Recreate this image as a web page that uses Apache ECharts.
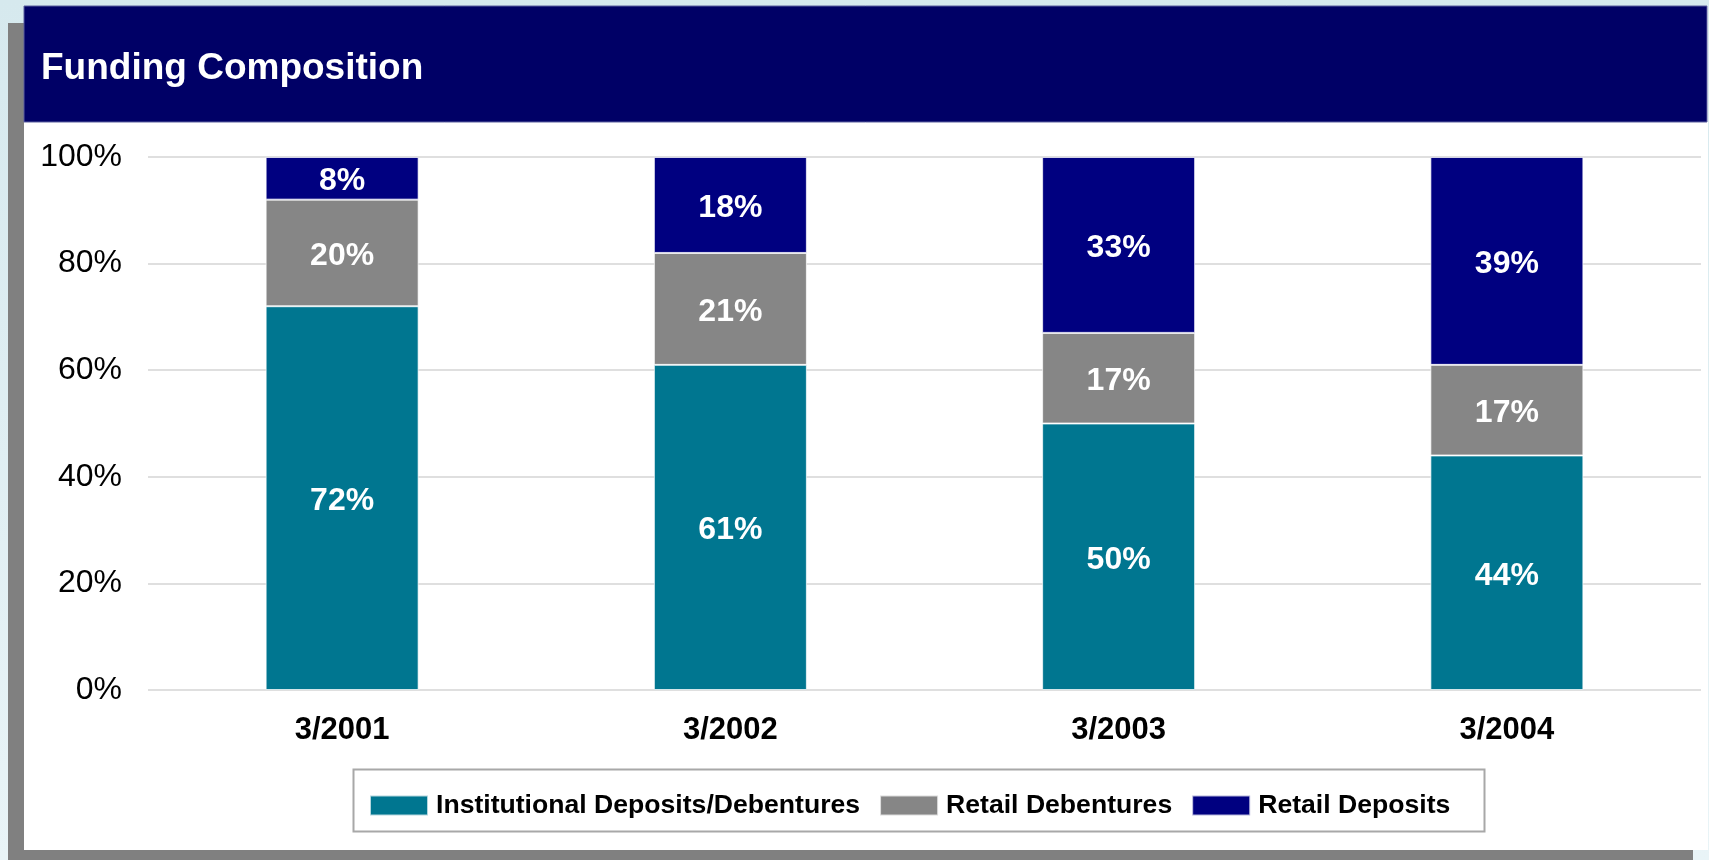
<!DOCTYPE html>
<html>
<head>
<meta charset="utf-8">
<title>Funding Composition</title>
<script src="https://cdn.jsdelivr.net/npm/echarts@6/dist/echarts.min.js"></script>
<style>
  html, body { margin: 0; padding: 0; background: #dcecf0; }
  #chart { width: 1709px; height: 860px; }
</style>
</head>
<body>
<div id="chart"></div>
<script>
// Funding mix by fiscal year end, in percent of total funding
const categories = ['3/2001', '3/2002', '3/2003', '3/2004'];
const institutional = [72, 61, 50, 44];
const retailDebentures = [20, 21, 17, 17];
const retailDeposits = [8, 18, 33, 39];
const yTicks = [0, 20, 40, 60, 80, 100];

const FONT = 'Liberation Sans, Arial, Helvetica, sans-serif';

const chart = echarts.init(document.getElementById('chart'), null, { renderer: 'canvas' });

const segLabel = {
  show: true,
  position: 'inside',
  offset: [0, 3],
  color: '#ffffff',
  fontFamily: FONT,
  fontWeight: 'bold',
  fontSize: 32,
  formatter: p => p.value + '%'
};

function barSeries(name, data, color) {
  return {
    name: name,
    type: 'bar',
    stack: 'total',
    barWidth: 153,
    data: data,
    itemStyle: { color: color, borderColor: 'rgba(255,255,255,0.7)', borderWidth: 1 },
    label: segLabel,
    emphasis: { disabled: true },
    z: 5
  };
}

chart.setOption({
  animation: false,
  backgroundColor: 'transparent',
  graphic: [
    // page backdrop
    {
      type: 'rect', z: -30, silent: true,
      shape: { x: 0, y: 0, width: 1709, height: 860 },
      style: {
        fill: new echarts.graphic.LinearGradient(0, 0, 0, 1, [
          { offset: 0, color: '#d6e9ee' },
          { offset: 1, color: '#e9f4f7' }
        ])
      }
    },
    // drop shadow behind the panel
    {
      type: 'rect', z: -20, silent: true,
      shape: { x: 8, y: 23, width: 1685, height: 837 },
      style: { fill: '#808080' }
    },
    // white panel
    {
      type: 'rect', z: -10, silent: true,
      shape: { x: 24, y: 6, width: 1684, height: 844 },
      style: { fill: '#ffffff' }
    },
    // navy header band
    {
      type: 'rect', z: -5, silent: true,
      shape: { x: 24, y: 6, width: 1683, height: 116 },
      style: { fill: '#000066', stroke: '#5a5f9e', lineWidth: 1 }
    },
    {
      type: 'text', z: 10, silent: true,
      left: 41, top: 50,
      style: {
        text: 'Funding Composition',
        fill: '#ffffff',
        font: 'bold 37px ' + FONT
      }
    },
    // legend frame
    {
      type: 'rect', z: 1, silent: true,
      shape: { x: 353.5, y: 769.5, width: 1131, height: 62 },
      style: { fill: '#ffffff', stroke: '#a8a8a8', lineWidth: 2 }
    }
  ],
  grid: {
    left: 148,
    right: 8,
    top: 157,
    bottom: 170,
    containLabel: false
  },
  legend: {
    left: 369,
    top: 792,
    padding: 0,
    itemWidth: 58,
    itemHeight: 20,
    itemGap: 19,
    icon: 'rect',
    selectedMode: false,
    textStyle: {
      fontFamily: FONT,
      fontWeight: 'bold',
      fontSize: 26.6,
      color: '#000000',
      padding: [0, 0, 0, 3]
    },
    data: ['Institutional Deposits/Debentures', 'Retail Debentures', 'Retail Deposits'],
    z: 5
  },
  xAxis: {
    type: 'category',
    data: categories,
    axisLine: { show: false },
    axisTick: { show: false },
    axisLabel: {
      margin: 25,
      color: '#000000',
      fontFamily: FONT,
      fontWeight: 'bold',
      fontSize: 31
    }
  },
  yAxis: {
    type: 'value',
    min: yTicks[0],
    max: yTicks[yTicks.length - 1],
    interval: yTicks[1] - yTicks[0],
    axisLine: { show: false },
    axisTick: { show: false },
    splitLine: { lineStyle: { color: '#d4d4d4', width: 1.5 } },
    axisLabel: {
      margin: 26,
      color: '#000000',
      fontFamily: FONT,
      fontSize: 32,
      formatter: v => v + '%'
    }
  },
  series: [
    barSeries('Institutional Deposits/Debentures', institutional, '#007690'),
    barSeries('Retail Debentures', retailDebentures, '#868686'),
    barSeries('Retail Deposits', retailDeposits, '#000080')
  ]
});
</script>
</body>
</html>
